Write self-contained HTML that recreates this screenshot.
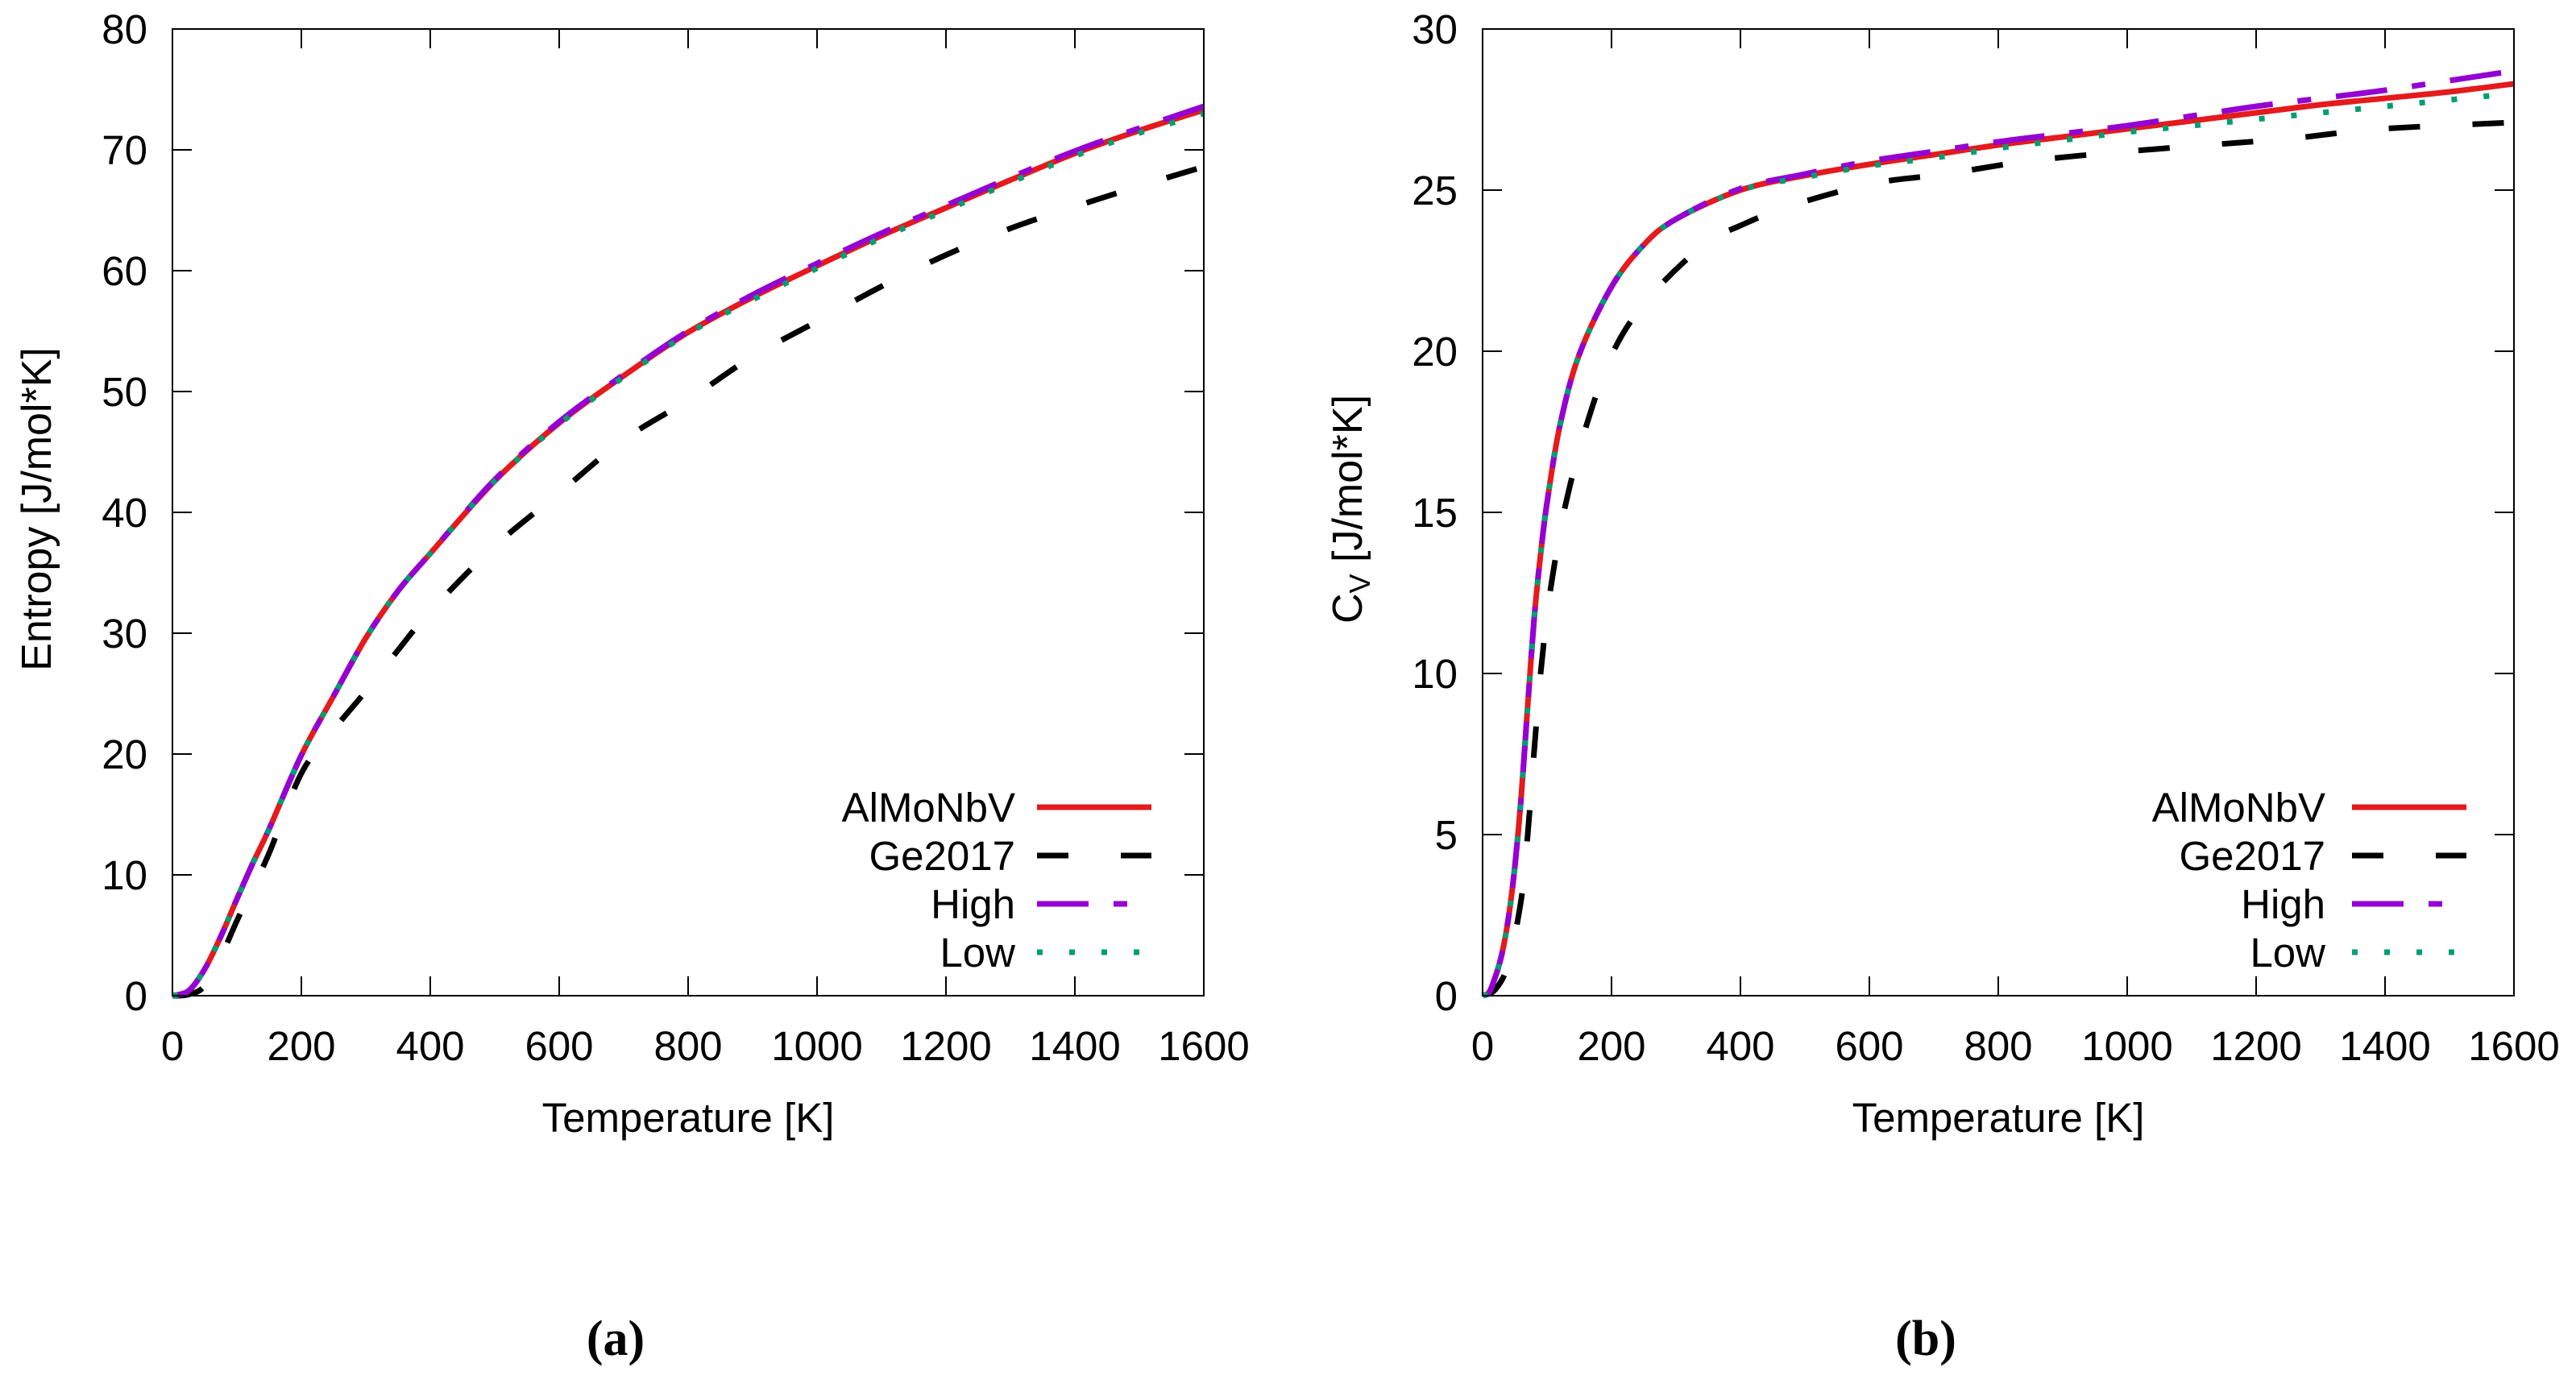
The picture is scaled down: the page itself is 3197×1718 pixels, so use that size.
<!DOCTYPE html>
<html><head><meta charset="utf-8"><style>
html,body{margin:0;padding:0;background:#fff;}
svg text{font-family:"Liberation Sans",sans-serif;fill:#000;}
</style></head><body>
<svg id="fig" width="3197" height="1713" viewBox="0 0 3197 1713" xmlns="http://www.w3.org/2000/svg"></svg>
<script>
// ---- Panel (a): entropy ----
const tempsA = [0,25,50,75,100,125,150,200,250,300,350,400,500,600,700,800,900,1000,1100,1200,1300,1400,1500,1600];
const entropyAlMoNbV = [0,0.4,2.2,4.9,8,11,13.8,19.9,24.8,29.6,33.5,36.6,42.6,47.4,51.3,54.9,57.8,60.4,62.9,65.2,67.5,69.7,71.6,73.3];
const entropyHigh    = [0,0.4,2.2,4.9,8,11,13.8,19.9,24.8,29.6,33.5,36.6,42.7,47.5,51.4,55.0,58.0,60.6,63.1,65.4,67.7,69.9,71.8,73.6];
const entropyLow     = [0,0.4,2.2,4.9,8,11,13.8,19.9,24.8,29.6,33.5,36.6,42.6,47.3,51.2,54.8,57.6,60.2,62.7,65.0,67.3,69.5,71.4,73.0];
const entropyGe      = [0,0.1,0.8,3.2,6.2,9.0,11.8,18.4,22.0,25.2,28.6,31.8,37.2,41.6,46.0,49.3,52.9,55.8,58.7,61.3,63.5,65.3,67.0,68.6];
const yTicksA = [0,10,20,30,40,50,60,70,80];
// ---- Panel (b): Cv ----
const tempsB = [0,10,20,30,40,50,60,70,80,90,100,120,150,200,250,300,400,500,600,700,800,900,1000,1100,1200,1300,1400,1500,1600];
const cvAlMoNbV = [0,0.1,0.6,1.3,2.4,4.0,6.2,9.0,11.7,13.7,15.3,17.7,19.9,22.0,23.3,24.1,25.0,25.45,25.8,26.1,26.4,26.65,26.9,27.15,27.4,27.65,27.85,28.05,28.3];
const cvHigh    = [0,0.1,0.6,1.3,2.4,4.0,6.2,9.0,11.7,13.7,15.3,17.7,19.9,22.0,23.3,24.1,25.05,25.5,25.9,26.2,26.5,26.75,27.0,27.3,27.6,27.85,28.1,28.4,28.7];
const cvLow     = [0,0.1,0.6,1.3,2.4,4.0,6.2,9.0,11.7,13.7,15.3,17.7,19.9,22.0,23.3,24.1,25.0,25.4,25.75,26.0,26.3,26.55,26.8,27.0,27.2,27.4,27.6,27.8,28.0];
const tempsGeB  = [0,20,40,60,70,80,90,100,110,126,158,203,260,343,400,476,604,718,846,999,1126,1253,1394,1600];
const cvGe      = [0,0.2,1,3,5.0,7.6,10,11.8,13.2,15,17.5,20,21.7,23.3,23.9,24.5,25.2,25.5,25.9,26.2,26.4,26.6,26.9,27.1];
const yTicksB = [0,5,10,15,20,25,30];
const xTicks = [0,200,400,600,800,1000,1200,1400,1600];
const seriesNames = ["AlMoNbV","Ge2017","High","Low"];

const NS="http://www.w3.org/2000/svg";
const svg=document.getElementById('fig');
function mk(tag,attrs,parent){const e=document.createElementNS(NS,tag);for(const k in attrs)e.setAttribute(k,attrs[k]);(parent||svg).appendChild(e);return e;}
const styles={
 "AlMoNbV":{stroke:"#e41a1c",dash:""},
 "Ge2017":{stroke:"#000000",dash:"39 65"},
 "High":{stroke:"#9400d3",dash:"64 31 17 31"},
 "Low":{stroke:"#009e73",dash:"7 33"}
};
function smoothPath(pts){
  let d='M'+pts[0][0].toFixed(1)+' '+pts[0][1].toFixed(1);
  for(let i=0;i<pts.length-1;i++){
    const p0=pts[Math.max(0,i-1)],p1=pts[i],p2=pts[i+1],p3=pts[Math.min(pts.length-1,i+2)];
    const c1x=p1[0]+(p2[0]-p0[0])/6,c1y=p1[1]+(p2[1]-p0[1])/6;
    const c2x=p2[0]-(p3[0]-p1[0])/6,c2y=p2[1]-(p3[1]-p1[1])/6;
    d+=` C${c1x.toFixed(1)} ${c1y.toFixed(1)} ${c2x.toFixed(1)} ${c2y.toFixed(1)} ${p2[0].toFixed(1)} ${p2[1].toFixed(1)}`;
  }
  return d;
}
function panel(opt){
  const g=mk('g',{});
  
  
  const L=opt.left,R=opt.left+1280,T=36,B=1236;
  const xs=v=>L+(v/1600)*(R-L);
  const ys=v=>B-(v/opt.ymax)*(B-T);
  opt.series.forEach(s=>{
    const st=styles[s.name];
    const pts=s.x.map((t,i)=>[xs(t),ys(s.y[i])]);
    const p=mk('path',{d:smoothPath(pts),fill:'none',stroke:st.stroke,'stroke-width':7,'stroke-dasharray':st.dash,'stroke-linejoin':'round'},g);
    
    
  });
  const fr=mk('rect',{x:L,y:T,width:R-L,height:B-T,fill:'none',stroke:'#000','stroke-width':2},g);
  
  
  xTicks.forEach(v=>{
    const x=xs(v);
    mk('line',{x1:x,y1:B,x2:x,y2:B-24,stroke:'#000','stroke-width':2},g);
    mk('line',{x1:x,y1:T,x2:x,y2:T+24,stroke:'#000','stroke-width':2},g);
    const t=mk('text',{x:x,y:B+80,'font-size':51,'text-anchor':'middle'},g);
    t.textContent=v;
    
    
  });
  opt.yTicks.forEach(v=>{
    const y=ys(v);
    mk('line',{x1:L,y1:y,x2:L+24,y2:y,stroke:'#000','stroke-width':2},g);
    mk('line',{x1:R,y1:y,x2:R-24,y2:y,stroke:'#000','stroke-width':2},g);
    const t=mk('text',{x:L-31,y:y+18,'font-size':51,'text-anchor':'end'},g);
    t.textContent=v;
    
    
  });
  const xt=mk('text',{x:(L+R)/2,y:1405,'font-size':51,'text-anchor':'middle'},g);
  xt.textContent='Temperature [K]';
  
  
  const yt=mk('text',{x:0,y:0,'font-size':52,'text-anchor':'middle',transform:`translate(${opt.ytx},${opt.yty}) rotate(-90)`},g);
  yt.innerHTML=opt.ytitle;
  
  
  const rows=[1002,1062,1122,1182];
  seriesNames.forEach((n,i)=>{
    const lt=mk('text',{x:L+opt.legText,y:rows[i]+18,'font-size':51,'text-anchor':'end'},g);
    lt.textContent=n;
    
    
    const ll=mk('line',{x1:L+opt.legLine,y1:rows[i],x2:L+opt.legLine+142,y2:rows[i],stroke:styles[n].stroke,'stroke-width':7,'stroke-dasharray':styles[n].dash},g);
    
    
  });
  const cap=mk('text',{x:(L+R)/2-90,y:1682,'font-size':62,'text-anchor':'middle','font-weight':'bold',style:'font-family:"Liberation Serif",serif'},g);
  cap.textContent=opt.caption;
  
  
}
panel({name:'entropy-chart',left:214,ymax:80,yTicks:yTicksA,ytitle:'Entropy [J/mol*K]',ytx:63,yty:632,legText:1046,legLine:1073,caption:'(a)',
 series:[{name:'Ge2017',x:tempsA,y:entropyGe},{name:'AlMoNbV',x:tempsA,y:entropyAlMoNbV},{name:'High',x:tempsA,y:entropyHigh},{name:'Low',x:tempsA,y:entropyLow}]});
panel({name:'cv-chart',left:1840,ymax:30,yTicks:yTicksB,ytitle:'C<tspan font-size="36" dy="10">V</tspan><tspan dy="-10"> [J/mol*K]</tspan>',ytx:1690,yty:632,legText:1046,legLine:1079,caption:'(b)',
 series:[{name:'Ge2017',x:tempsGeB,y:cvGe},{name:'AlMoNbV',x:tempsB,y:cvAlMoNbV},{name:'High',x:tempsB,y:cvHigh},{name:'Low',x:tempsB,y:cvLow}]});
</script>
</body></html>
